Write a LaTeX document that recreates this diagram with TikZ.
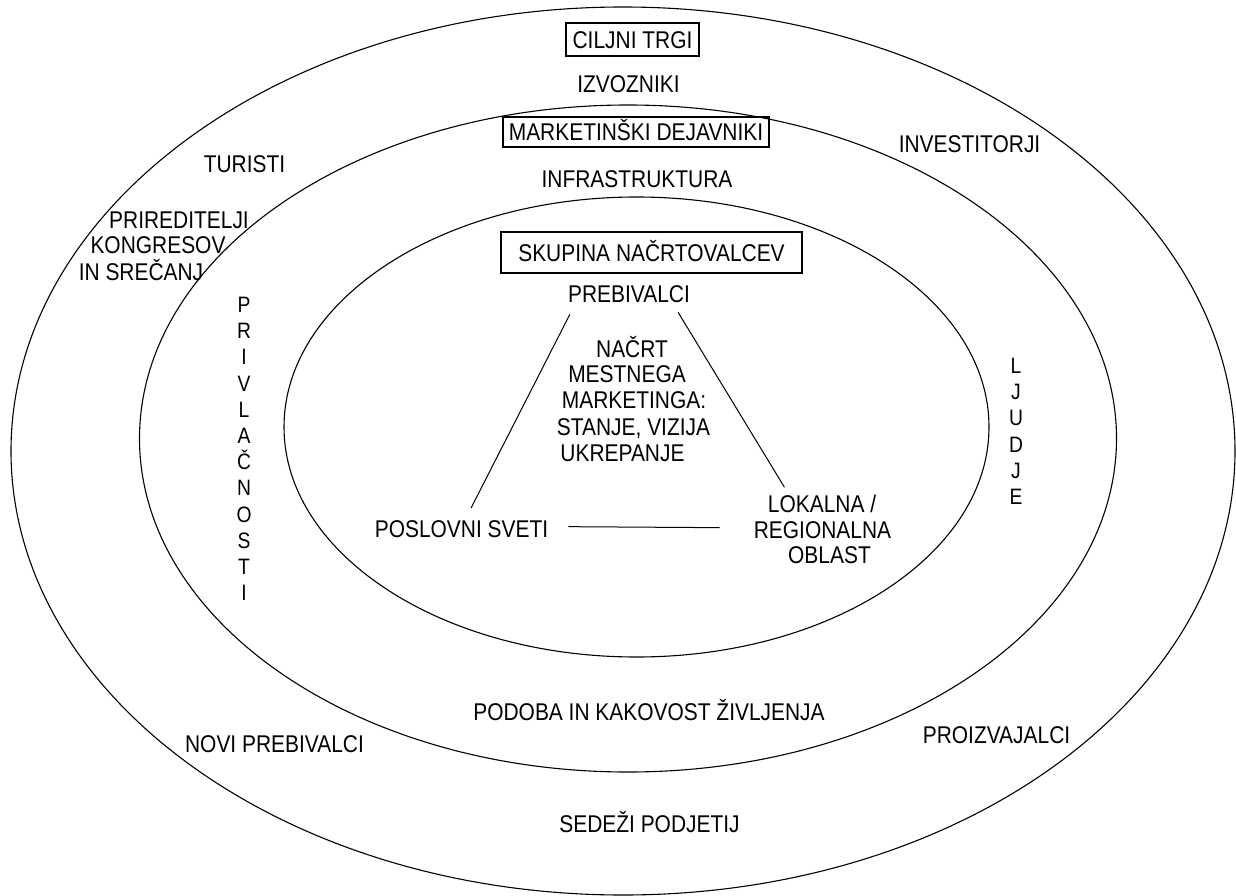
\documentclass[tikz,border=0pt]{standalone}
\usepackage{fontspec}
\setmainfont[FakeStretch=0.865]{Liberation Sans}
\usetikzlibrary{calc}
\begin{document}
\begin{tikzpicture}[x=1pt,y=-1pt,
  lab/.style={inner sep=0pt, anchor=base, font=\fontsize{24.2}{29}\selectfont},
  boxed/.style={draw, line width=1.2pt, inner sep=0pt, text height=17.3pt, text depth=0pt, font=\fontsize{24.2}{29}\selectfont},
  vert/.style={inner sep=0pt, anchor=north, align=center, font=\fontsize{22.3}{26.2}\selectfont},
  ring/.style={draw, line width=1.1pt},
  link/.style={draw, line width=1pt}]
\useasboundingbox (0,0) rectangle (1236,896);
\fill[white] (0,0) rectangle (1236,896);
% rings
\draw[ring] (623,451) ellipse [x radius=612pt, y radius=444pt];
\draw[ring] (628,438.5) ellipse [x radius=488.5pt, y radius=333.5pt];
\draw[ring] (636.5,427) ellipse [x radius=352.5pt, y radius=230pt];
% boxed titles
\node[boxed, minimum width=133pt, minimum height=33pt] (ciljni) at (632.5,39.5) {CILJNI TRGI};
\node[boxed, minimum width=266pt, minimum height=30pt] (mark) at (636,132) {MARKETINŠKI DEJAVNIKI};
\node[boxed, minimum width=301pt, minimum height=41pt] (skup) at (651.5,252.5) {SKUPINA NAČRTOVALCEV};
% labels
\node[lab] (izv) at (628.5,93) {IZVOZNIKI};
\node[lab] (infra) at (637,188) {INFRASTRUKTURA};
\node[lab] (preb) at (629,302) {PREBIVALCI};
\node[lab] (tur) at (244.5,173) {TURISTI};
\node[lab] (prir1) at (179,228) {PRIREDITELJI};
\node[lab] (prir2) at (158,253) {KONGRESOV};
\node[lab] (prir3) at (141,280) {IN SREČANJ};
\node[lab] (inv) at (969.5,153) {INVESTITORJI};
\node[lab] (nac1) at (632,357) {NAČRT};
\node[lab] (nac2) at (627,382) {MESTNEGA};
\node[lab] (nac3) at (634,408) {MARKETINGA:};
\node[lab] (nac4) at (633.5,435) {STANJE, VIZIJA};
\node[lab] (nac5) at (622.5,461) {UKREPANJE};
\node[lab] (posl) at (461.5,537) {POSLOVNI SVETI};
\node[lab] (lok1) at (822,512) {LOKALNA /};
\node[lab] (lok2) at (822.5,538) {REGIONALNA};
\node[lab] (lok3) at (829.5,563) {OBLAST};
\node[lab] (podoba) at (649,720) {PODOBA IN KAKOVOST ŽIVLJENJA};
\node[lab] (novi) at (274.5,752) {NOVI PREBIVALCI};
\node[lab] (proiz) at (996.5,743) {PROIZVAJALCI};
\node[lab] (sedezi) at (649.5,832) {SEDEŽI PODJETIJ};
\node[vert] (priv) at (244,297) {P\\R\\I\\V\\L\\A\\Č\\N\\O\\S\\T\\I};
\node[vert] (ljudje) at (1016,358) {L\\J\\U\\D\\J\\E};
% connectors
\draw[link, shorten <=13.4pt, shorten >=13.4pt] ($(preb.south west)+(8,0)$) -- ($(posl.north)+(3.5,0)$);
\draw[link, shorten <=11.7pt, shorten >=8.2pt] ($(preb.south east)+(-18,0)$) -- ($(lok1.north west)+(21,0)$);
\draw[link] ($(posl.east)+(20,-2)$) -- ($(lok2.west)+(-34,-2)$);
\end{tikzpicture}
\end{document}
